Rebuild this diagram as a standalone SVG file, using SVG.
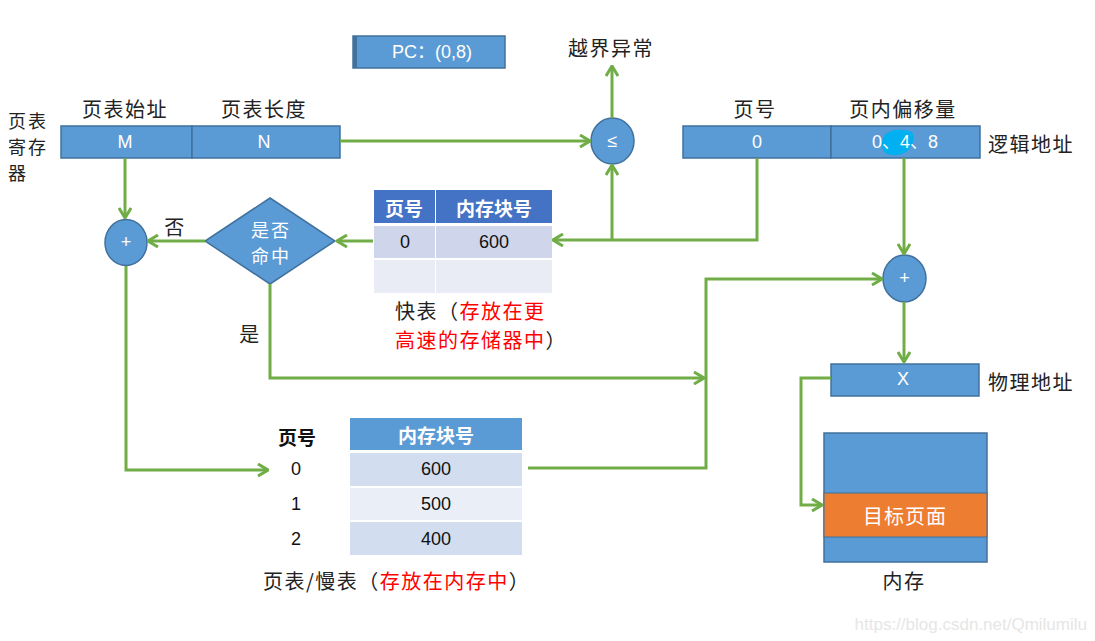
<svg xmlns="http://www.w3.org/2000/svg" width="1095" height="641" viewBox="0 0 1095 641">
<defs>
<style>
.box{fill:#5B9BD5;stroke:#41719C;stroke-width:1.5}
.wt{fill:#fff;font-family:"Liberation Sans","Noto Sans CJK SC",sans-serif;font-size:18px;text-anchor:middle;dominant-baseline:central}
.lbl{fill:#222;font-family:"Noto Sans CJK SC",sans-serif;font-size:20px;letter-spacing:1.5px;dominant-baseline:central}
.mid{text-anchor:middle}
.red{fill:#FF0000}
.th{fill:#fff;font-family:"Noto Sans CJK SC",sans-serif;font-size:19px;font-weight:bold;text-anchor:middle;dominant-baseline:central}
.td{fill:#111;font-family:"Liberation Sans","Noto Sans CJK SC",sans-serif;font-size:18px;text-anchor:middle;dominant-baseline:central}
.ln{fill:none;stroke:#70AD47;stroke-width:3}
.arr{marker-end:url(#ah)}
</style>
<marker id="ah" viewBox="0 0 12 14" refX="11" refY="7" markerWidth="12" markerHeight="14" markerUnits="userSpaceOnUse" orient="auto">
<path d="M1,1 L11,7 L1,13" fill="none" stroke="#70AD47" stroke-width="3"/>
</marker>
</defs>
<rect width="1095" height="641" fill="#fff"/>

<g id="pc">
<rect class="box" x="353" y="36" width="152" height="32"/>
<rect x="353" y="36" width="4" height="32" fill="#41719C"/>
<text class="wt" x="432" y="52">PC：(0,8)</text>
</g>

<g id="overflow-label">
<text class="lbl mid" x="611" y="47">越界异常</text>
</g>

<g id="page-table-register">
<text class="lbl" style="font-size:18px;letter-spacing:2px"><tspan x="8" y="120">页表</tspan><tspan x="8" y="146">寄存</tspan><tspan x="8" y="172">器</tspan></text>
<text class="lbl mid" x="125" y="108">页表始址</text>
<text class="lbl mid" x="264" y="108">页表长度</text>
<rect class="box" x="61" y="126" width="131" height="32"/>
<rect class="box" x="192" y="126" width="148" height="32"/>
<text class="wt" x="125" y="142">M</text>
<text class="wt" x="264" y="142">N</text>
</g>

<g id="compare">
<ellipse class="box" cx="612.5" cy="141" rx="21.5" ry="23"/>
<text class="wt" x="612.5" y="141">≤</text>
</g>

<g id="logical-address">
<text class="lbl mid" x="755" y="108">页号</text>
<text class="lbl mid" x="903" y="108">页内偏移量</text>
<rect class="box" x="683" y="126" width="148" height="32"/>
<rect class="box" x="831" y="126" width="149" height="32"/>
<text class="wt" x="757" y="142">0</text>
<path d="M884,136 C890,128 904,129 912,132 C916,138 912,148 906,152 C898,157 886,156 883,150 C881,145 882,140 884,136 Z" fill="#00B0F0"/>
<text class="wt" x="905" y="142">0、4、8</text>
<text class="lbl" x="988" y="143">逻辑地址</text>
</g>

<g id="tlb">
<rect x="374" y="190" width="61" height="33" fill="#4472C4"/>
<rect x="436" y="190" width="116" height="33" fill="#4472C4"/>
<rect x="374" y="226" width="61" height="32" fill="#CFD5EA"/>
<rect x="436" y="226" width="116" height="32" fill="#CFD5EA"/>
<rect x="374" y="260" width="61" height="33" fill="#E9EBF5"/>
<rect x="436" y="260" width="116" height="33" fill="#E9EBF5"/>
<text class="th" x="404" y="207">页号</text>
<text class="th" x="494" y="207">内存块号</text>
<text class="td" x="405" y="242">0</text>
<text class="td" x="494" y="242">600</text>
<text class="lbl"><tspan x="395" y="310">快表（</tspan><tspan class="red">存放在更</tspan><tspan class="red" x="395" y="339">高速的存储器中</tspan><tspan>）</tspan></text>
</g>

<g id="hit-decision">
<polygon class="box" points="270,198 335,241 270,284 205,241"/>
<text class="wt" style="font-family:'Noto Sans CJK SC',sans-serif;font-size:18px;letter-spacing:2px"><tspan x="271" y="229">是否</tspan><tspan x="271" y="255">命中</tspan></text>
<text class="lbl mid" x="175" y="226">否</text>
<text class="lbl mid" x="250" y="333">是</text>
</g>

<g id="add-left">
<ellipse class="box" cx="126" cy="242.5" rx="21" ry="23"/>
<text class="wt" x="126" y="242">+</text>
</g>

<g id="page-table">
<text class="td" x="297" y="436" style="font-family:'Noto Sans CJK SC',sans-serif;font-weight:bold;font-size:19px">页号</text>
<rect x="350" y="418" width="172" height="32" fill="#5B9BD5"/>
<text class="th" x="436" y="434">内存块号</text>
<rect x="350" y="453" width="172" height="33" fill="#D2DEEF"/>
<rect x="350" y="488" width="172" height="32" fill="#EAEFF7"/>
<rect x="350" y="522" width="172" height="33" fill="#D2DEEF"/>
<text class="td" x="296" y="469">0</text>
<text class="td" x="296" y="504">1</text>
<text class="td" x="296" y="539">2</text>
<text class="td" x="436" y="469">600</text>
<text class="td" x="436" y="504">500</text>
<text class="td" x="436" y="539">400</text>
<text class="lbl" x="263" y="580">页表/慢表（<tspan class="red">存放在内存中</tspan>）</text>
</g>

<g id="add-right">
<ellipse class="box" cx="904.5" cy="278.5" rx="21.5" ry="23.5"/>
<text class="wt" x="904.5" y="278">+</text>
</g>

<g id="physical-address">
<rect class="box" x="831" y="364" width="148" height="32"/>
<text class="wt" x="903" y="379">X</text>
<text class="lbl" x="988" y="381">物理地址</text>
</g>

<g id="memory">
<rect class="box" x="824" y="433" width="163" height="129"/>
<rect x="824" y="493" width="163" height="44" fill="#ED7D31" stroke="#41719C" stroke-width="1"/>
<text class="wt" x="905" y="515" style="font-family:'Noto Sans CJK SC',sans-serif;font-size:20px;letter-spacing:1px">目标页面</text>
<text class="lbl mid" x="904" y="580">内存</text>
</g>

<g id="connectors">
<path class="ln arr" d="M125,158 V218"/>
<path class="ln arr" d="M340,141 H590"/>
<path class="ln arr" d="M612,118 V66"/>
<path class="ln arr" d="M757,158 V240 H553"/>
<path class="ln arr" d="M612,240 V165"/>
<path class="ln arr" d="M373,241 H337"/>
<path class="ln arr" d="M205,241 H148"/>
<path class="ln arr" d="M126,266 V470 H268"/>
<path class="ln arr" d="M270,284 V378 H704"/>
<path class="ln arr" d="M528,468 H706 V279 H882"/>
<path class="ln arr" d="M904,158 V254"/>
<path class="ln arr" d="M904,302 V362"/>
<path class="ln arr" d="M831,378 H801 V505 H822"/>
</g>

<g id="watermark">
<text x="1087" y="624" text-anchor="end" dominant-baseline="central" style="font-family:'Liberation Sans',sans-serif;font-size:17px;fill:#E6E6E6">https://blog.csdn.net/Qmilumilu</text>
</g>
</svg>
